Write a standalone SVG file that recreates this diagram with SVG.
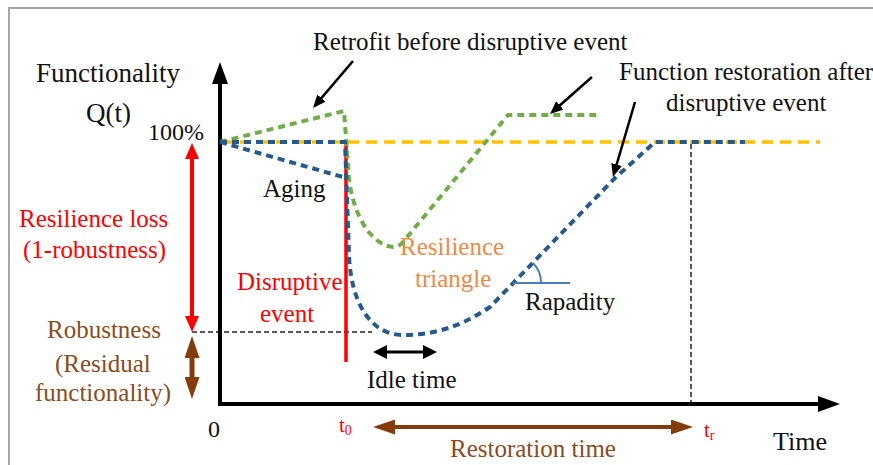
<svg xmlns="http://www.w3.org/2000/svg" width="873" height="465" viewBox="0 0 873 465">
<style>
text{font-family:"Liberation Serif","Times New Roman",serif;font-size:25px;fill:#111}
.red{fill:#FF0000}
.brown{fill:#8A4B1E}
.orange{fill:#EB8A44}
.blue{fill:none;stroke:#255A8C;stroke-width:4;stroke-dasharray:7 5;stroke-linecap:butt;stroke-linejoin:round}
.green{fill:none;stroke:#70AD47;stroke-width:4;stroke-dasharray:7 5;stroke-linejoin:round}
.yellow{fill:none;stroke:#FFC000;stroke-width:3.5;stroke-dasharray:11 7}
.guide{fill:none;stroke:#222;stroke-width:1.5;stroke-dasharray:5 3}
.axis{fill:none;stroke:#000;stroke-width:4}
.annot{fill:none;stroke:#000;stroke-width:2.5}
</style>
<defs>
<marker id="mAxis" markerUnits="userSpaceOnUse" markerWidth="22" markerHeight="16" refX="10" refY="8" orient="auto"><path d="M0,0 L22,8 L0,16 z" fill="#000"/></marker>
<marker id="mRed" markerUnits="userSpaceOnUse" markerWidth="16" markerHeight="14" refX="6" refY="7" orient="auto-start-reverse"><path d="M0,0 L16,7 L0,14 z" fill="#FF0000"/></marker>
<marker id="mBrown" markerUnits="userSpaceOnUse" markerWidth="22" markerHeight="15" refX="8" refY="7.5" orient="auto-start-reverse"><path d="M0,0 L22,7.5 L0,15 z" fill="#843C0C"/></marker>
<marker id="mBlack" markerUnits="userSpaceOnUse" markerWidth="14" markerHeight="14" refX="5" refY="7" orient="auto-start-reverse"><path d="M0,0 L14,7 L0,14 z" fill="#000"/></marker>
<marker id="mAnnot" markerUnits="userSpaceOnUse" markerWidth="13" markerHeight="11" refX="5" refY="5.5" orient="auto"><path d="M0,0 L13,5.5 L0,11 z" fill="#000"/></marker>
</defs>
<rect width="873" height="465" fill="#fff"/>
<path d="M9,465 L9,8 L873,8" fill="none" stroke="#A6A6A6" stroke-width="2"/>

<g id="connectors">
  <!-- guides -->
  <line class="guide" x1="192" y1="332" x2="372" y2="332"/>
  <line class="guide" x1="691" y1="144" x2="691" y2="404"/>
  <!-- axes -->
  <line class="axis" x1="220" y1="406" x2="220" y2="74" marker-end="url(#mAxis)"/>
  <line class="axis" x1="218" y1="404" x2="828" y2="404" marker-end="url(#mAxis)"/>
  <!-- baseline 100% -->
  <line class="yellow" x1="222" y1="142" x2="820" y2="142"/>
  <!-- red disruptive event line -->
  <line x1="346" y1="142" x2="346" y2="362" stroke="#FF0000" stroke-width="3.5"/>
  <!-- green retrofit curve -->
  <path class="green" d="M220,142 L344,111 L349,178 C353,215 371,245 393,247 Q399,247 403,242 L508,115 L597,115"/>
  <!-- blue curves -->
  <path class="blue" d="M220,142 L345,142 L349,255 C351,305 372,335 403,335 C435,335 462,326 490,307 L615,178 L655,142 L745,142"/>
  <path class="blue" d="M220,142 L343,177"/>
  <!-- rapidity marker -->
  <line x1="513" y1="283" x2="570" y2="283" stroke="#4A7EBB" stroke-width="2"/>
  <path d="M541,283 A28,28 0 0 0 533,263" fill="none" stroke="#4A7EBB" stroke-width="2"/>
  <!-- double arrows -->
  <line x1="192" y1="153" x2="192" y2="322" stroke="#FF0000" stroke-width="4" marker-start="url(#mRed)" marker-end="url(#mRed)"/>
  <line x1="192" y1="350" x2="192" y2="385" stroke="#843C0C" stroke-width="5" marker-start="url(#mBrown)" marker-end="url(#mBrown)"/>
  <line x1="382" y1="352" x2="428" y2="352" stroke="#000" stroke-width="3" marker-start="url(#mBlack)" marker-end="url(#mBlack)"/>
  <line x1="387" y1="427" x2="679" y2="427" stroke="#843C0C" stroke-width="4" marker-start="url(#mBrown)" marker-end="url(#mBrown)"/>
  <!-- annotation arrows -->
  <line class="annot" x1="353" y1="61" x2="318.2" y2="101.9" marker-end="url(#mAnnot)"/>
  <line class="annot" x1="592" y1="77" x2="556" y2="108.7" marker-end="url(#mAnnot)"/>
  <line class="annot" x1="635" y1="102" x2="615.2" y2="169.3" marker-end="url(#mAnnot)"/>
</g>

<g id="axis-y-label">
  <text x="36" y="82" style="font-size:27px">Functionality</text>
  <text x="86" y="122" style="font-size:27px">Q(t)</text>
</g>
<g id="label-100"><text x="148" y="140" style="font-size:24px">100%</text></g>
<g id="label-zero"><text x="208" y="437" style="font-size:24px">0</text></g>
<g id="label-time"><text x="773" y="450" style="font-size:26px">Time</text></g>
<g id="label-retrofit"><text x="313" y="50">Retrofit before disruptive event</text></g>
<g id="label-restoration">
  <text x="619" y="80">Function restoration after</text>
  <text x="666" y="111">disruptive event</text>
</g>
<g id="label-aging"><text x="263" y="197">Aging</text></g>
<g id="label-resilience-loss">
  <text class="red" x="19" y="227">Resilience loss</text>
  <text class="red" x="23" y="258">(1-robustness)</text>
</g>
<g id="label-disruptive">
  <text class="red" x="237" y="290">Disruptive</text>
  <text class="red" x="260" y="322">event</text>
</g>
<g id="label-triangle">
  <text class="orange" x="400" y="255">Resilience</text>
  <text class="orange" x="415" y="287">triangle</text>
</g>
<g id="label-rapidity"><text x="525" y="310">Rapadity</text></g>
<g id="label-idle"><text x="367" y="388">Idle time</text></g>
<g id="label-robustness">
  <text class="brown" x="47" y="338">Robustness</text>
  <text class="brown" x="55" y="372">(Residual</text>
  <text class="brown" x="35" y="401">functionality)</text>
</g>
<g id="label-t0"><text class="red" x="339" y="432" style="font-size:21px">t<tspan dy="3" style="font-size:14px">0</tspan></text></g>
<g id="label-tr"><text class="red" x="704" y="437" style="font-size:21px">t<tspan dy="3" style="font-size:14px">r</tspan></text></g>
<g id="label-restoration-time"><text class="brown" x="450" y="457">Restoration time</text></g>
</svg>
